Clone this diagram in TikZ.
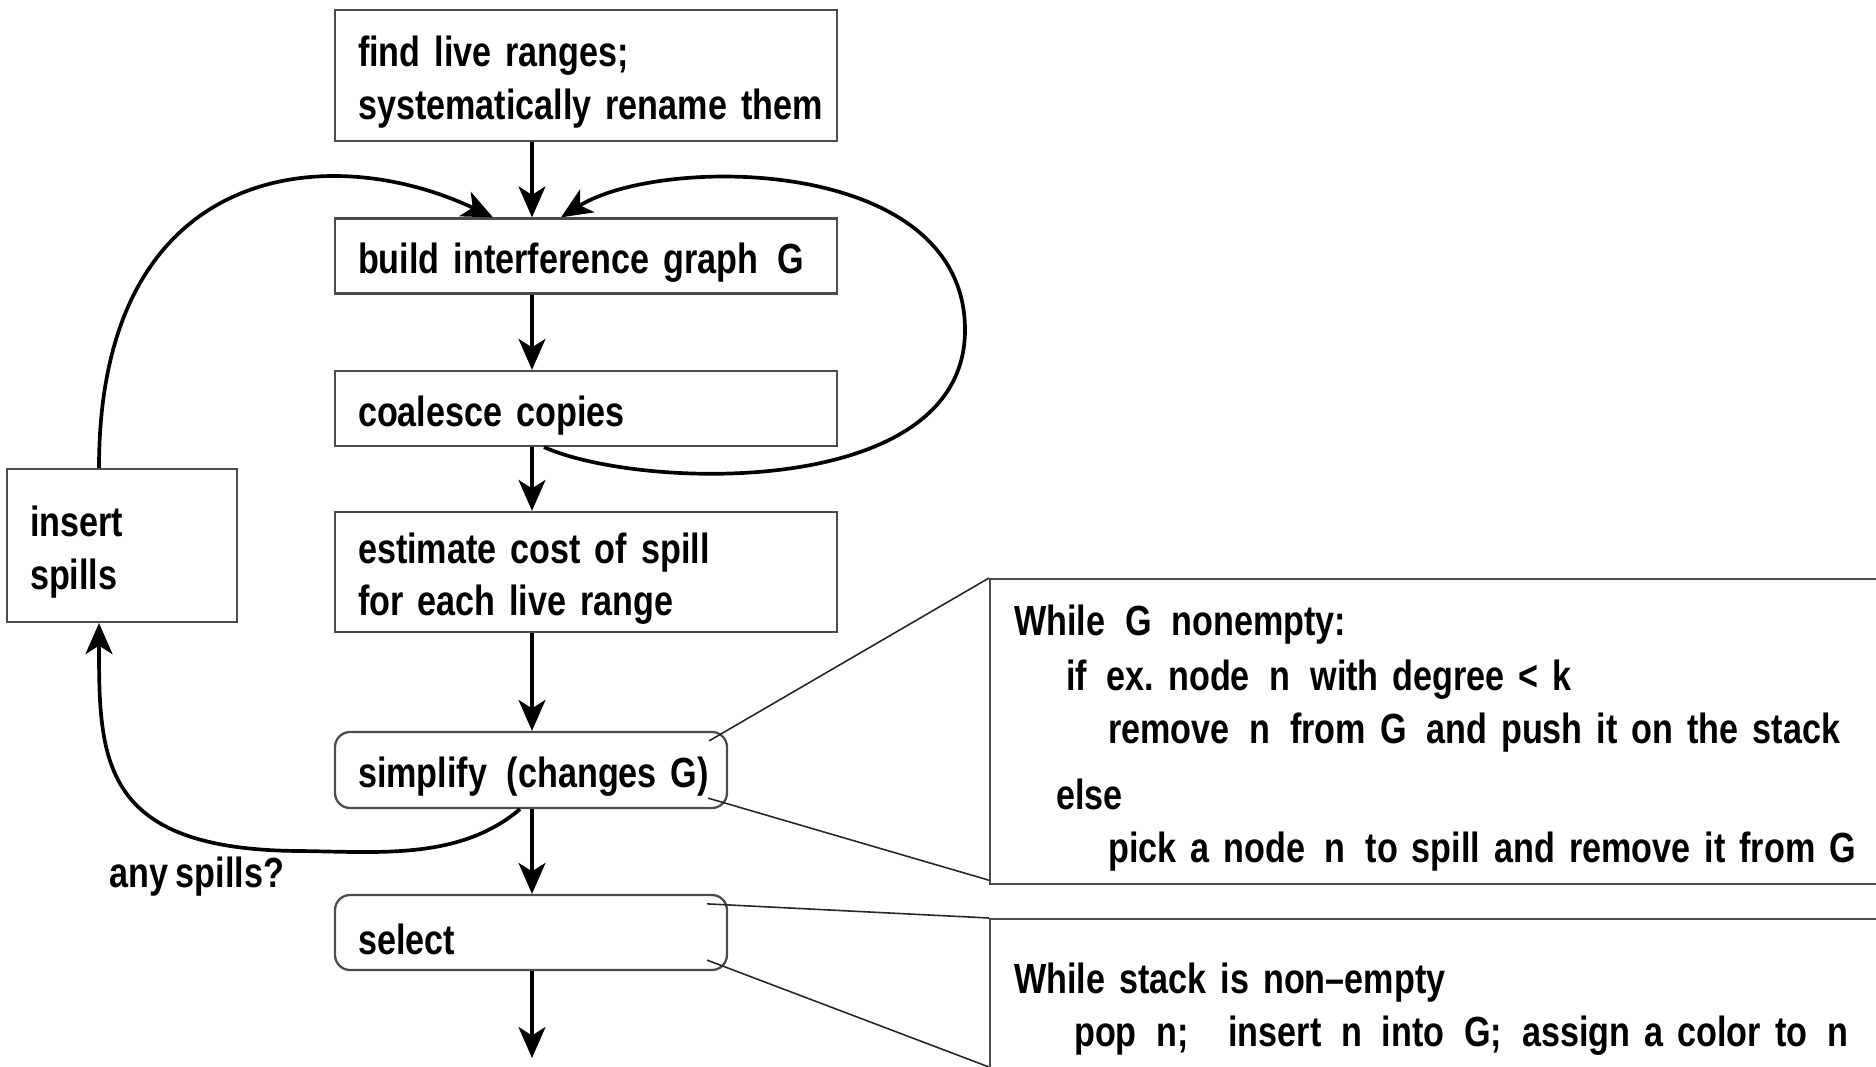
\documentclass[tikz,border=0pt]{standalone}
\usepackage{fontspec}
\setmainfont{Liberation Sans}[FakeStretch=0.81,WordSpace=0.75]
\usetikzlibrary{arrows.meta,calc}
\newcommand{\gap}{\hspace{0.47em}}

\begin{document}
\frenchspacing
\begin{tikzpicture}[x=0.02cm,y=-0.02cm,
  font=\bfseries\fontsize{24}{30}\selectfont,
  box/.style={draw=black!70,line width=1.3pt,align=left,inner xsep=0.46cm,inner ysep=0pt,
    execute at begin node={\rule{0pt}{25pt}}},
  roundbox/.style={box,rounded corners=0.3cm},
  flow/.style={-{Stealth[length=0.62cm,width=0.54cm,inset=0.17cm]},line width=1.9pt},
  loop/.style={flow,line width=2.1pt},
  zoomline/.style={draw=black!85,line width=0.9pt}]
\useasboundingbox (0,0) rectangle (1876,1067);
\clip (0,0) rectangle (1876,1067);
\coordinate (axis) at (532,0);
\node[box,text width=9.12cm,minimum height=2.62cm] (find) at (586,75.5) {find live ranges;\\\mbox{systematically rename them}};
\node[box,text width=9.12cm,minimum height=1.50cm] (build) at (586,256) {\mbox{build interference graph\gap G}};
\node[box,text width=9.12cm,minimum height=1.50cm] (coalesce) at (586,408.5) {coalesce copies};
\node[box,text width=9.12cm,minimum height=2.40cm] (estimate) at (586,572) {estimate cost of spill\\for each live range};
\node[box,text width=3.68cm,minimum height=3.06cm] (insert) at (122,545.5) {insert\\spills};
\node[roundbox,text width=6.92cm,minimum height=1.52cm] (simplify) at (531,770) {\mbox{simplify\gap (changes G)}};
\node[roundbox,text width=6.92cm,minimum height=1.50cm] (select) at (531,932.5) {select};
\node (anyspills) at (197,877) {any spills?};
\node[box,anchor=north west,text width=19cm,minimum height=6.10cm,inner xsep=0.48cm] (whilebox) at (989,578) {While\gap G\gap nonempty:\\[1pt]
  \hspace*{1.04cm}if\gap ex. node\gap n\gap with degree < k\\
  \hspace*{1.88cm}remove\gap n\gap from G\gap and push it on the stack\\[8pt]
  \hspace*{0.84cm}else\\
  \hspace*{1.88cm}pick a node\gap n\gap to spill and remove it from G};
\node[box,anchor=north west,text width=19cm,minimum height=3.34cm,inner xsep=0.48cm] (stackbox) at (989,918) {While stack is non–empty\\
  \hspace*{1.2cm}pop\gap n;\gap\gap insert\gap n\gap into\gap G;\gap assign a color to\gap n};
\coordinate (out) at (532,1058);
\draw[flow] (find.south -| axis) -- (build.north -| axis);
\draw[flow] (build.south -| axis) -- (coalesce.north -| axis);
\draw[flow] (coalesce.south -| axis) -- (estimate.north -| axis);
\draw[flow] (estimate.south -| axis) -- (simplify.north -| axis);
\draw[flow] (simplify.south -| axis) -- (select.north -| axis);
\draw[flow] (select.south -| axis) -- (out);
\draw[loop] ($(insert.north)+(-23,0)$) .. controls (99,160) and (330,140) .. ($(build.north -| axis)+(-39,0)$);
\draw[loop] ($(coalesce.south -| axis)+(12,0)$) .. controls (640,490) and (965,500) .. (965,330) .. controls (965,155) and (660,155) .. ($(build.north -| axis)+(29,0)$);
\draw[loop] ($(simplify.south -| axis)+(-12,0)$) .. controls (460,860) and (380,852) .. (300,851) .. controls (100,850) and (99,760) .. ($(insert.south)+(-23,0)$);
\draw[zoomline] ($(simplify.north east)+(-19,10)$) -- (whilebox.north west);
\draw[zoomline] ($(simplify.south east)+(-20,-11)$) -- ($(whilebox.south west)+(0,-5)$);
\draw[zoomline] ($(select.north east)+(-21,10)$) -- (stackbox.north west);
\draw[zoomline] ($(select.south east)+(-21,-11)$) -- ($(stackbox.north west)+(0,149)$);
\end{tikzpicture}
\end{document}
